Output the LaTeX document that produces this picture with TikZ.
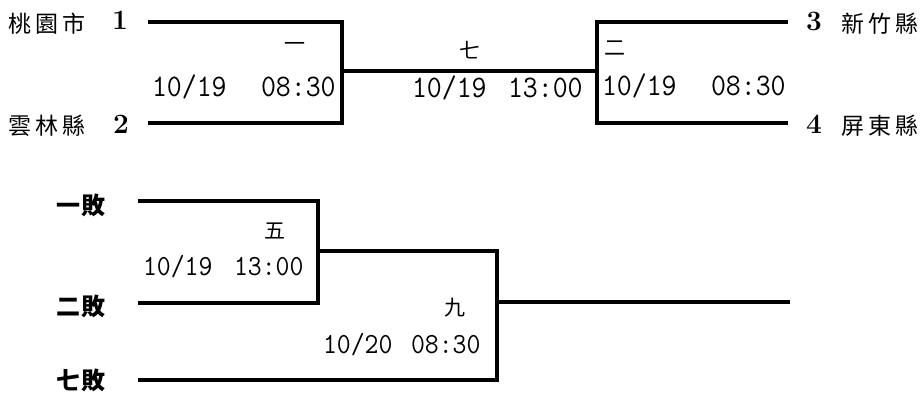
\documentclass[tikz,border=0pt]{standalone}
\usepackage{fontspec}
\newfontfamily\cjk{Noto Sans CJK TC}
\newcommand\tall[1]{\scalebox{1}[1.08]{#1}}
\newcommand\gap{\kern2pt}
\begin{document}
\begin{tikzpicture}[x=0.5pt,y=-0.5pt,line width=2pt,
team/.style={font=\cjk\fontsize{11.5}{11.5}\selectfont},
seed/.style={font=\bfseries\fontsize{14}{14}\selectfont},
game/.style={font=\cjk\fontsize{10.5}{10.5}\selectfont},
date/.style={anchor=base west,inner sep=0pt,font=\ttfamily\fontsize{14.5}{14.5}\selectfont},
small date/.style={date,font=\ttfamily\fontsize{13.5}{13.5}\selectfont},
loser/.style={font=\cjk\bfseries\fontsize{12}{12}\selectfont}]
\useasboundingbox(0,0)rectangle(923,392);
\node[team](ty)at(47,24){桃\gap 園\gap 市};
\node[seed](n1)at(120,20){1};
\node[team](yl)at(47,126){雲\gap 林\gap 縣};
\node[seed](n2)at(121,124){2};
\node[seed](n3)at(814,21){3};
\node[team](hc)at(880,24){新\gap 竹\gap 縣};
\node[seed](n4)at(814,124){4};
\node[team](pt)at(880,126){屏\gap 東\gap 縣};
\node[loser](l1t)at(81,205){一\kern1pt 敗};
\node[loser](l2t)at(81,306){二\kern1pt 敗};
\node[loser](l7t)at(81,380){七\kern1pt 敗};
\foreach\n/\x/\y/\t in{1/295/47/一,7/470/50/七,2/615/48/二,5/275/231/五,9/455/308/九}
\node[game](g\n)at(\x,\y){\t};
\foreach\n/\x/\y/\u/\d/\h in{1/150/96/259/10\slash19/08:30,7/410/97/506/10\slash19/13:00,2/600/95/709/10\slash19/08:30}{
\node[date](d\n)at(\x,\y){\tall{\d}};
\node[date](h\n)at(\u,\y){\tall{\h}};}
\foreach\n/\x/\y/\u/\d/\h in{5/141/275/232/10\slash19/13:00,9/321/353/409/10\slash20/08:30}{
\node[small date](d\n)at(\x,\y){\tall{\d}};
\node[small date](h\n)at(\u,\y){\tall{\h}};}
\coordinate(s1)at(148,22);\coordinate(s2)at(148,123);
\coordinate(s3)at(788,22);\coordinate(s4)at(788,123);
\coordinate(w1)at(342,71);\coordinate(w2)at(597,71);
\coordinate(l1)at(138,201);\coordinate(l2)at(138,303);\coordinate(l7)at(138,380);
\coordinate(w5)at(318,251);\coordinate(w9)at(497,302);\coordinate(e9)at(790,302);
\draw(s1)-|(w1)|-(s2);
\draw(s3)-|(w2)|-(s4);
\draw(w1)--(w2);
\draw(l1)-|(w5)|-(l2);
\draw(w5)-|(w9)|-(l7);
\draw(w9)--(e9);
\end{tikzpicture}
\end{document}
